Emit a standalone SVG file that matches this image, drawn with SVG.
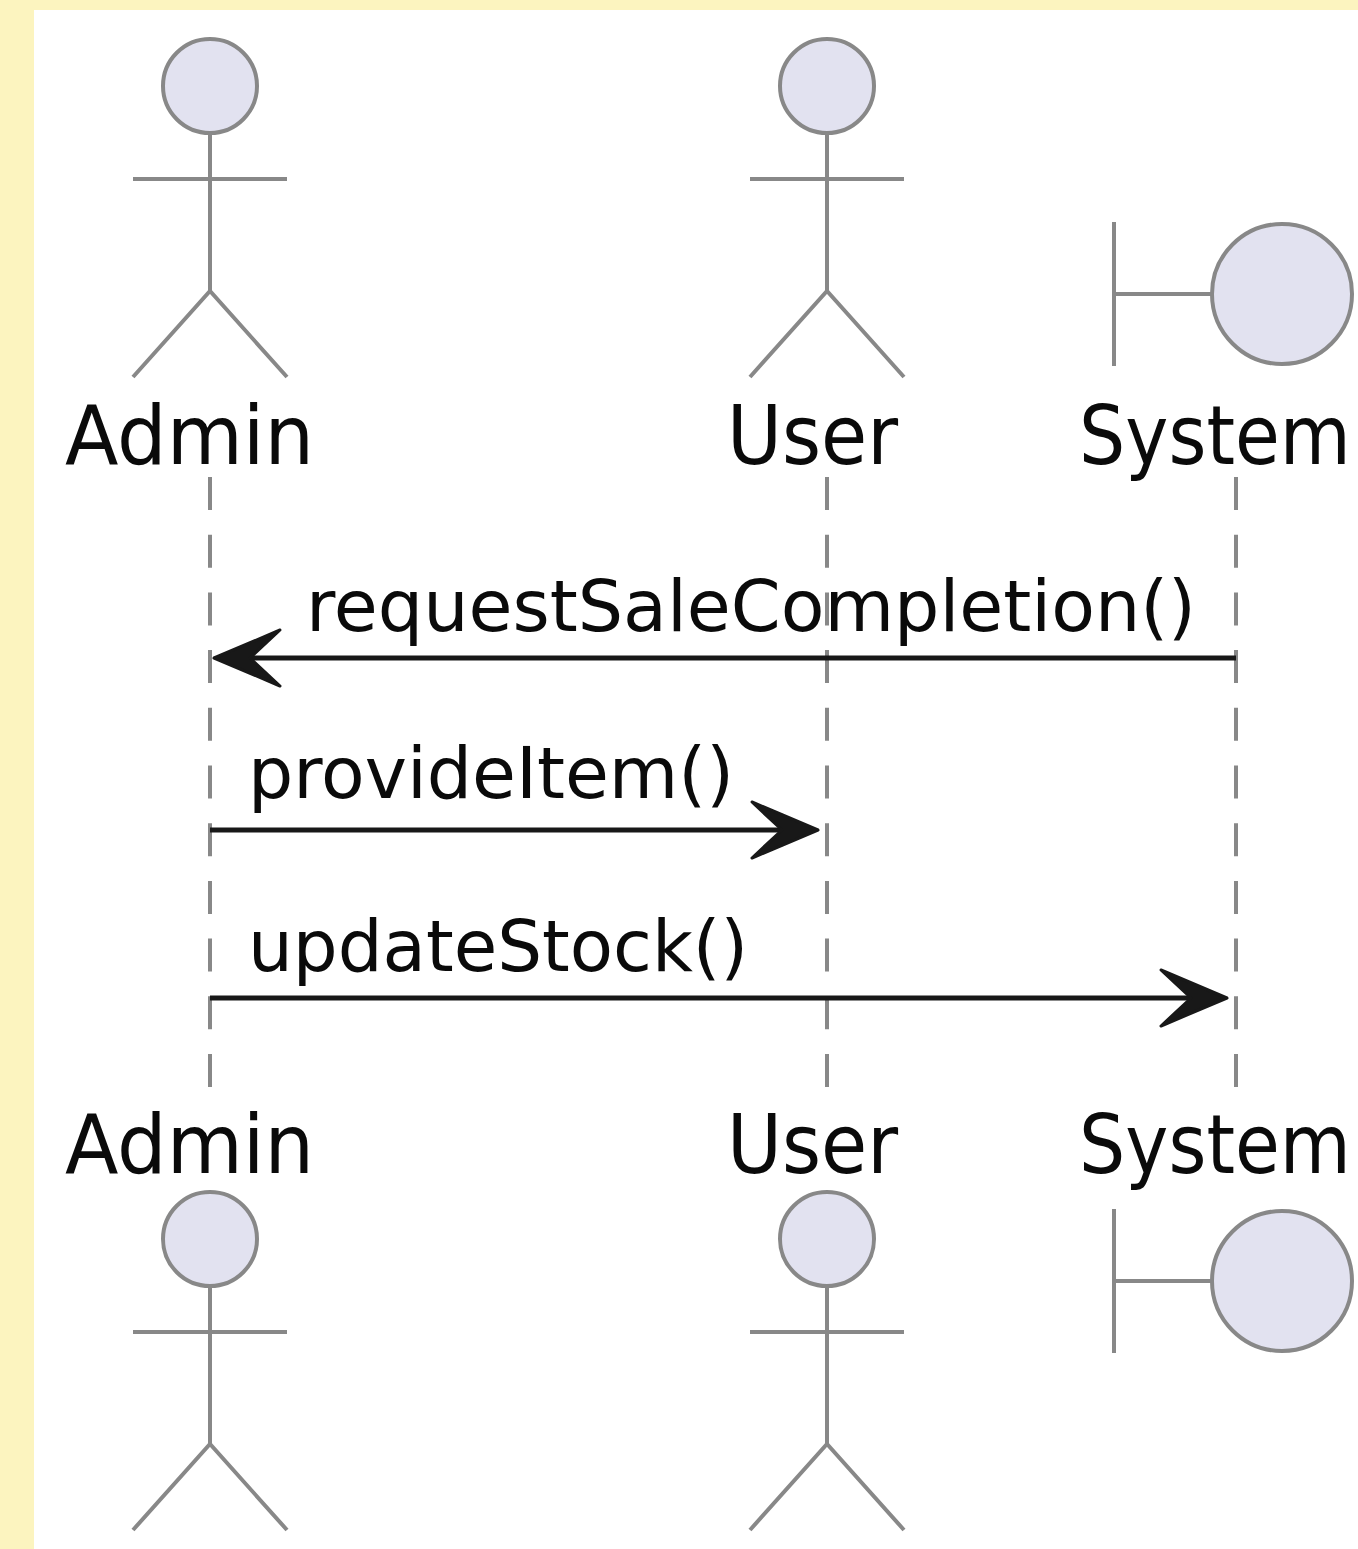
<svg xmlns="http://www.w3.org/2000/svg" width="1358" height="1549" viewBox="0 0 1358 1549">
<style>
.bg{fill:#fcf4bf}
.fig{fill:none;stroke:#888;stroke-width:4}
.head{fill:#e2e2f0;stroke:#888;stroke-width:4}
.life{fill:none;stroke:#888;stroke-width:4;stroke-dasharray:33 24.7}
.msg{fill:none;stroke:#181818;stroke-width:5}
.ah{fill:#181818;stroke:#181818;stroke-width:3;stroke-linejoin:round}
text{font-family:"DejaVu Sans",sans-serif;fill:#0a0a0a}
.name{font-size:82px}
.lab{font-size:71px}
</style>
<defs>
<g id="actor"><circle class="head" cx="0" cy="0" r="47"/><path class="fig" d="M0 47V205M-77 93H77M-77 291L0 205L77 291"/></g>
<g id="boundary"><circle class="head" cx="0" cy="0" r="70"/><path class="fig" d="M-168 -72V72M-168 0H-70"/></g>
</defs>
<rect class="bg" width="1358" height="1549"/>
<rect x="34" y="10" width="1324" height="1539" fill="#fff"/>
<g id="connectors">
<path class="life" d="M210 477V1090"/>
<path class="life" d="M827 477V1090"/>
<path class="life" d="M1236 477V1090"/>
<path class="msg" d="M1236 658H230"/>
<path class="ah" d="M214 658L280 630L250 658L280 686Z"/>
<path class="msg" d="M210 830H800"/>
<path class="ah" d="M818 830L752 802L782 830L752 858Z"/>
<path class="msg" d="M210 998H1210"/>
<path class="ah" d="M1227 998L1161 970L1191 998L1161 1026Z"/>
<text class="lab" x="306" y="631" textLength="890" lengthAdjust="spacingAndGlyphs">requestSaleCompletion()</text>
<text class="lab" x="248" y="798" textLength="486" lengthAdjust="spacingAndGlyphs">provideItem()</text>
<text class="lab" x="248" y="971" textLength="500" lengthAdjust="spacingAndGlyphs">updateStock()</text>
</g>
<g id="admin-top"><use href="#actor" x="210" y="86"/><text class="name" x="65" y="464" textLength="249" lengthAdjust="spacingAndGlyphs">Admin</text></g>
<g id="user-top"><use href="#actor" x="827" y="86"/><text class="name" x="727" y="464" textLength="171" lengthAdjust="spacingAndGlyphs">User</text></g>
<g id="system-top"><use href="#boundary" x="1282" y="294"/><text class="name" transform="translate(1079 464) scale(.889 1)">System</text></g>
<g id="admin-bottom"><use href="#actor" x="210" y="1239"/><text class="name" x="65" y="1173" textLength="249" lengthAdjust="spacingAndGlyphs">Admin</text></g>
<g id="user-bottom"><use href="#actor" x="827" y="1239"/><text class="name" x="727" y="1173" textLength="171" lengthAdjust="spacingAndGlyphs">User</text></g>
<g id="system-bottom"><use href="#boundary" x="1282" y="1281"/><text class="name" transform="translate(1079 1173) scale(.889 1)">System</text></g>
</svg>
